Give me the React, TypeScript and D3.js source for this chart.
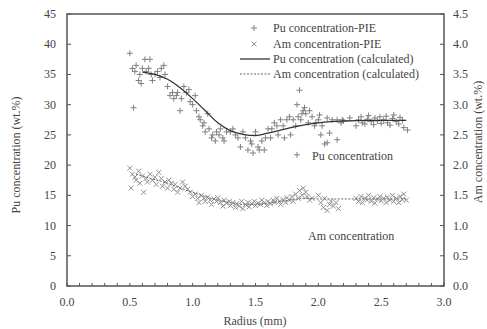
import React, { useEffect } from "react";
import * as d3 from "d3";

// Pu concentration (PIE) scatter: radius (mm), wt.%
const puR = [0.50,0.52,0.53,0.54,0.55,0.57,0.58,0.59,0.60,0.62,0.63,0.65,0.66,0.67,0.68,0.70,0.72,0.74,0.75,0.77,0.78,0.80,0.82,0.84,0.85,0.87,0.88,0.90,0.91,0.93,0.95,0.97,0.98,1.00,1.02,1.03,1.05,1.06,1.08,1.09,1.10,1.12,1.13,1.15,1.16,1.18,1.19,1.21,1.22,1.24,1.25,1.27,1.30,1.32,1.34,1.36,1.38,1.40,1.42,1.44,1.46,1.47,1.48,1.50,1.52,1.53,1.55,1.57,1.58,1.60,1.62,1.63,1.65,1.67,1.68,1.70,1.72,1.73,1.75,1.77,1.78,1.80,1.82,1.83,1.83,1.84,1.85,1.86,1.87,1.88,1.89,1.90,1.92,1.93,1.95,1.97,1.98,2.00,2.01,2.02,2.03,2.05,2.07,2.07,2.09,2.11,2.15,2.15,2.18,2.19,2.20,2.25,2.30,2.32,2.34,2.35,2.37,2.39,2.40,2.42,2.44,2.45,2.47,2.49,2.50,2.52,2.54,2.55,2.57,2.59,2.60,2.62,2.64,2.65,2.67,2.68,2.71];
const puV = [38.5,36.0,29.5,35.5,36.5,34.0,35.0,33.5,36.0,37.5,35.5,36.0,37.5,35.0,34.0,35.0,35.5,34.5,36.0,36.5,35.0,33.0,31.5,32.0,31.0,31.5,32.0,29.0,31.0,33.0,32.0,32.5,30.5,30.0,31.5,29.0,28.0,27.5,26.5,27.0,25.5,28.5,26.0,24.5,25.0,24.0,25.5,25.0,26.0,24.5,24.0,25.5,25.5,26.0,25.0,24.5,23.0,25.5,24.5,22.5,24.0,23.5,22.0,25.5,23.0,22.5,24.0,22.5,24.5,26.0,24.5,26.0,27.0,26.5,25.0,27.5,26.5,24.5,27.5,28.0,25.0,27.5,26.5,30.0,21.7,28.0,32.4,27.5,28.5,29.0,29.5,28.5,27.0,29.0,28.0,26.5,27.0,27.5,28.3,25.0,26.5,23.5,23.7,27.8,25.3,27.5,24.2,27.5,27.0,27.5,27.3,27.8,26.5,27.5,28.0,27.0,26.8,27.6,28.2,27.2,26.7,27.8,27.3,28.0,26.9,27.5,28.1,27.0,26.6,27.7,28.3,27.2,26.8,27.9,27.4,26.2,25.8];

// Am concentration (PIE) scatter: radius (mm), wt.% (right axis)
const amR = [0.50,0.51,0.52,0.54,0.55,0.57,0.58,0.60,0.61,0.63,0.64,0.66,0.68,0.70,0.71,0.73,0.75,0.76,0.78,0.80,0.81,0.83,0.85,0.86,0.88,0.90,0.92,0.94,0.96,0.98,1.00,1.02,1.04,1.05,1.07,1.09,1.10,1.12,1.14,1.15,1.17,1.19,1.20,1.22,1.24,1.25,1.27,1.29,1.30,1.32,1.34,1.35,1.37,1.39,1.40,1.42,1.44,1.45,1.47,1.49,1.50,1.52,1.54,1.55,1.57,1.59,1.60,1.62,1.64,1.65,1.67,1.69,1.70,1.72,1.74,1.75,1.77,1.79,1.80,1.82,1.84,1.85,1.87,1.88,1.90,1.91,1.93,1.95,2.00,2.02,2.04,2.05,2.07,2.09,2.10,2.12,2.14,2.16,2.30,2.32,2.34,2.35,2.37,2.39,2.40,2.42,2.44,2.45,2.47,2.49,2.50,2.52,2.54,2.55,2.57,2.59,2.60,2.62,2.64,2.65,2.67,2.68,2.70];
const amV = [1.95,1.62,1.85,1.80,1.75,1.90,1.70,1.82,1.55,1.78,1.72,1.85,1.75,1.80,1.68,1.88,1.78,1.65,1.72,1.62,1.75,1.70,1.60,1.68,1.55,1.62,1.72,1.65,1.60,1.55,1.48,1.52,1.45,1.38,1.50,1.45,1.40,1.47,1.42,1.35,1.44,1.40,1.46,1.38,1.32,1.42,1.37,1.40,1.33,1.38,1.30,1.36,1.32,1.40,1.28,1.35,1.38,1.31,1.36,1.40,1.33,1.37,1.35,1.42,1.38,1.33,1.40,1.36,1.42,1.38,1.45,1.40,1.35,1.43,1.38,1.46,1.42,1.48,1.40,1.52,1.45,1.58,1.50,1.62,1.55,1.48,1.42,1.45,1.50,1.38,1.30,1.45,1.25,1.35,1.40,1.32,1.38,1.28,1.45,1.40,1.48,1.38,1.45,1.42,1.50,1.40,1.46,1.37,1.44,1.48,1.41,1.45,1.38,1.47,1.42,1.50,1.40,1.45,1.38,1.48,1.43,1.52,1.42];

// Calculated curves
const puCalcR = [0.60,0.70,0.80,0.90,1.00,1.10,1.20,1.30,1.40,1.50,1.60,1.70,1.80,1.90,2.00,2.10,2.20,2.40,2.70];
const puCalcV = [35.4,35.0,34.2,32.8,31.0,29.0,27.0,25.7,25.1,24.9,25.3,25.8,26.3,26.7,27.0,27.2,27.3,27.4,27.4];
const amCalcR = [0.55,0.70,0.80,0.90,1.00,1.10,1.20,1.30,1.40,1.50,1.60,1.70,1.80,1.90,2.00,2.20,2.70];
const amCalcV = [1.85,1.76,1.70,1.62,1.55,1.48,1.42,1.38,1.35,1.35,1.37,1.40,1.43,1.45,1.44,1.44,1.44];

const xTicks = [0, 0.5, 1.0, 1.5, 2.0, 2.5, 3.0];
const yLeftTicks = [0, 5, 10, 15, 20, 25, 30, 35, 40, 45];
const yRightTicks = [0, 0.5, 1.0, 1.5, 2.0, 2.5, 3.0, 3.5, 4.0, 4.5];
const legendLabels = [
  "Pu concentration-PIE",
  "Am concentration-PIE",
  "Pu concentration (calculated)",
  "Am concentration (calculated)",
];

const W = 487, H = 329;
const L = 67, R = 444, T = 14, B = 286;
const FONT = "'Liberation Serif', 'DejaVu Serif', serif";
const TXT = "#444";
const AX = "#555";

export default function App() {
  useEffect(() => {
    document.body.style.margin = "0";
  }, []);
  const x = d3.scaleLinear().domain([0, 3]).range([L, R]);
  const yL = d3.scaleLinear().domain([0, 45]).range([B, T]);
  const yR = d3.scaleLinear().domain([0, 4.5]).range([B, T]);
  const minor = d3.range(0, 31).map((i) => i / 10);

  const puLine = d3.line<number>().x((_, i) => x(puCalcR[i])).y((v) => yL(v)).curve(d3.curveMonotoneX)(puCalcV) || "";
  const amLine = d3.line<number>().x((_, i) => x(amCalcR[i])).y((v) => yR(v)).curve(d3.curveMonotoneX)(amCalcV) || "";

  const plus = (cx: number, cy: number, s = 3) => `M${cx - s},${cy}H${cx + s}M${cx},${cy - s}V${cy + s}`;
  const cross = (cx: number, cy: number, s = 2.5) => `M${cx - s},${cy - s}L${cx + s},${cy + s}M${cx - s},${cy + s}L${cx + s},${cy - s}`;

  const legY = [28, 44, 59, 74];

  return (
    <svg width={W} height={H} style={{ display: "block", background: "#fff" }} fontFamily={FONT}>
      {/* scatter */}
      <path d={amR.map((r, i) => cross(x(r), yR(amV[i]))).join("")} stroke="#909090" strokeWidth={1} fill="none" />
      <path d={puR.map((r, i) => plus(x(r), yL(puV[i]))).join("")} stroke="#808080" strokeWidth={1} fill="none" />
      {/* calculated */}
      <path d={amLine} stroke="#666" strokeWidth={1} strokeDasharray="2,1.5" fill="none" />
      <path d={puLine} stroke="#333" strokeWidth={1.3} fill="none" />

      {/* frame */}
      <rect x={L} y={T} width={R - L} height={B - T} fill="none" stroke={AX} strokeWidth={1.5} />

      {/* bottom ticks */}
      {minor.map((v) => (
        <line key={"m" + v} x1={x(v)} x2={x(v)} y1={B} y2={B - 3} stroke={AX} strokeWidth={1} />
      ))}
      {xTicks.map((v) => (
        <text key={"xt" + v} x={x(v)} y={306} textAnchor="middle" fontSize={12} fill={TXT}>
          {v.toFixed(1)}
        </text>
      ))}
      {/* left ticks */}
      {yLeftTicks.map((v) => (
        <g key={"yl" + v}>
          <line x1={L} x2={L + 4} y1={yL(v)} y2={yL(v)} stroke={AX} strokeWidth={1} />
          <text x={56} y={yL(v) + 4} textAnchor="end" fontSize={12} fill={TXT}>{v}</text>
        </g>
      ))}
      {/* right ticks */}
      {yRightTicks.map((v) => (
        <g key={"yr" + v}>
          <line x1={R} x2={R - 4} y1={yR(v)} y2={yR(v)} stroke={AX} strokeWidth={1} />
          <text x={453} y={yR(v) + 4} textAnchor="start" fontSize={12} fill={TXT}>{v.toFixed(1)}</text>
        </g>
      ))}

      {/* axis titles */}
      <text transform={`translate(20,155) rotate(-90)`} textAnchor="middle" fontSize={12} fill={TXT}>
        Pu concentration (wt.%)
      </text>
      <text transform={`translate(482,142) rotate(-90)`} textAnchor="middle" fontSize={12} fill={TXT}>
        Am concentration (wt.%)
      </text>
      <text x={255} y={325} textAnchor="middle" fontSize={12} fill={TXT}>Radius (mm)</text>

      {/* annotations */}
      <text x={312} y={160} fontSize={12} fill={TXT}>Pu concentration</text>
      <text x={308} y={240} fontSize={12} fill={TXT}>Am concentration</text>

      {/* legend */}
      <path d={plus(254, legY[0])} stroke="#808080" strokeWidth={1} />
      <path d={cross(254, legY[1])} stroke="#909090" strokeWidth={1} />
      <line x1={240} x2={270} y1={legY[2]} y2={legY[2]} stroke="#333" strokeWidth={1.3} />
      <line x1={240} x2={270} y1={legY[3]} y2={legY[3]} stroke="#666" strokeWidth={1} strokeDasharray="2,1.5" />
      {legendLabels.map((t, i) => (
        <text key={t} x={273} y={legY[i] + 4} fontSize={12} fill={TXT}>{t}</text>
      ))}
    </svg>
  );
}
